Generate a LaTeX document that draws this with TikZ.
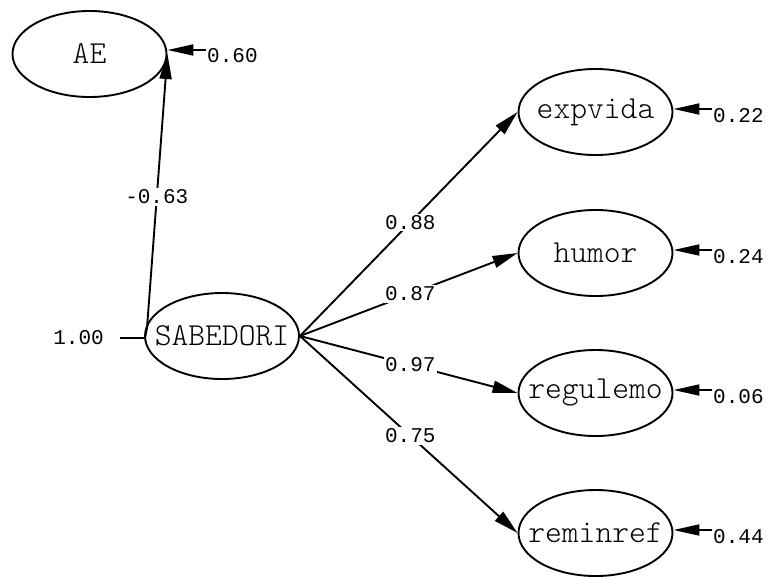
\documentclass[tikz,border=0pt]{standalone}
\usepackage{fontspec}
\newfontfamily\monofont{Liberation Mono}
\newfontfamily\nodefont{Latin Modern Mono Light}
\usetikzlibrary{shapes.geometric,arrows.meta}
\begin{document}
\begin{tikzpicture}[x=1pt,y=-1pt,
  latent/.style={ellipse,draw,line width=1.9pt,minimum width=154pt,minimum height=86pt,inner sep=0pt,font=\nodefont\fontsize{32}{34}\selectfont},
  lab/.style={fill=white,inner sep=1.5pt,font=\monofont\fontsize{21}{23}\selectfont},
  errlab/.style={anchor=west,inner sep=0pt,font=\monofont\fontsize{21}{23}\selectfont},
  path/.style={line width=1.9pt,-{Triangle[length=25pt,width=12pt]}},
  errpath/.style={line width=1.9pt,-{Triangle[length=26pt,width=11pt]}},
  plain/.style={line width=1.9pt}]
\useasboundingbox (0,0) rectangle (768,576);
\node[latent] (AE) at (89.5,54) {\makebox[0pt]{AE}};
\node[latent] (S) at (222,336) {\makebox[0pt]{SABEDORI}};
\node[latent] (ex) at (595.5,112) {\makebox[0pt]{expvida}};
\node[latent] (hu) at (595.5,253) {\makebox[0pt]{humor}};
\node[latent] (re) at (595.5,393) {\makebox[0pt]{regulemo}};
\node[latent] (rm) at (595.5,533) {\makebox[0pt]{reminref}};
% variance of SABEDORI
\node[errlab,anchor=east] (v) at (104,338) {1.00};
\coordinate (vs) at (120,338);
\coordinate (ve) at (145,338);
\draw[plain] (vs) -- (ve);
% AE path
\coordinate (sAE) at (147,328);
\draw[plain] (ve) -- (sAE);
\draw[path] (sAE) -- node[lab,pos=0.478] (lAE) {-0.63} (AE.east);
% paths to indicators
\draw[path] (S.east) -- node[lab,pos=0.507] (l1) {0.88} (ex.west);
\draw[path] (S.east) -- node[lab,pos=0.507] (l2) {0.87} (hu.west);
\draw[path] (S.east) -- node[lab,pos=0.507] (l3) {0.97} (re.west);
\draw[path] (S.east) -- node[lab,pos=0.507] (l4) {0.75} (rm.west);
% error terms
\coordinate (eAE) at (206,50);
\draw[errpath] (eAE) -- ([yshift=4pt]AE.east);
\node[errlab] (tAE) at (207,56) {0.60};
\coordinate (eex) at (712,109);
\draw[errpath] (eex) -- ([yshift=3pt]ex.east);
\node[errlab] (tex) at (713,116) {0.22};
\coordinate (ehu) at (712,250);
\draw[errpath] (ehu) -- ([yshift=3pt]hu.east);
\node[errlab] (thu) at (713,257) {0.24};
\coordinate (ere) at (712,390);
\draw[errpath] (ere) -- ([yshift=3pt]re.east);
\node[errlab] (tre) at (713,397) {0.06};
\coordinate (erm) at (712,530);
\draw[errpath] (erm) -- ([yshift=3pt]rm.east);
\node[errlab] (trm) at (713,537) {0.44};
\end{tikzpicture}
\end{document}
